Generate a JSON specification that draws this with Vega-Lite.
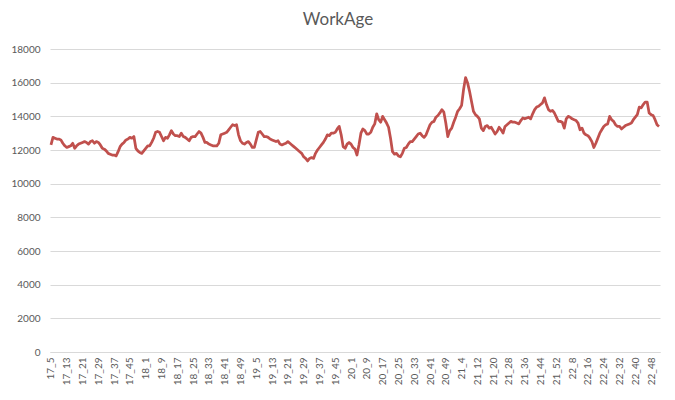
{
"$schema": "https://vega.github.io/schema/vega-lite/v6.json",
"width": 610, "height": 303,
"padding": {"left": 50, "top": 49, "right": 15, "bottom": 48},
"autosize": {"type": "none"},
"background": "white",
"title": {"text": "WorkAge", "fontSize": 17, "font": "Lato", "fontWeight": "normal", "color": "#595959", "frame": "group", "anchor": "middle", "offset": 15, "dx": -17},
"config": {"view": {"stroke": null}, "axis": {"labelFont": "Lato", "labelColor": "#595959", "labelFontSize": 10}},
"data": {"values": [
{"w":"17_5","v":12300},{"w":"17_6","v":12750},{"w":"17_7","v":12700},{"w":"17_8","v":12650},{"w":"17_9","v":12650},{"w":"17_10","v":12600},{"w":"17_11","v":12400},{"w":"17_12","v":12250},{"w":"17_13","v":12150},{"w":"17_14","v":12200},{"w":"17_15","v":12250},{"w":"17_16","v":12400},{"w":"17_17","v":12100},{"w":"17_18","v":12250},{"w":"17_19","v":12350},{"w":"17_20","v":12400},{"w":"17_21","v":12450},{"w":"17_22","v":12500},{"w":"17_23","v":12450},{"w":"17_24","v":12350},{"w":"17_25","v":12500},{"w":"17_26","v":12550},{"w":"17_27","v":12400},{"w":"17_28","v":12500},{"w":"17_29","v":12450},{"w":"17_30","v":12300},{"w":"17_31","v":12100},{"w":"17_32","v":12050},{"w":"17_33","v":11950},{"w":"17_34","v":11800},{"w":"17_35","v":11750},{"w":"17_36","v":11700},{"w":"17_37","v":11700},{"w":"17_38","v":11650},{"w":"17_39","v":11900},{"w":"17_40","v":12200},{"w":"17_41","v":12350},{"w":"17_42","v":12450},{"w":"17_43","v":12600},{"w":"17_44","v":12650},{"w":"17_45","v":12750},{"w":"17_46","v":12700},{"w":"17_47","v":12800},{"w":"17_48","v":12100},{"w":"17_49","v":11950},{"w":"17_50","v":11850},{"w":"17_51","v":11800},{"w":"17_52","v":11950},
{"w":"18_1","v":12100},{"w":"18_2","v":12250},{"w":"18_3","v":12250},{"w":"18_4","v":12450},{"w":"18_5","v":12700},{"w":"18_6","v":13050},{"w":"18_7","v":13100},{"w":"18_8","v":13050},{"w":"18_9","v":12800},{"w":"18_10","v":12550},{"w":"18_11","v":12750},{"w":"18_12","v":12700},{"w":"18_13","v":12900},{"w":"18_14","v":13150},{"w":"18_15","v":12950},{"w":"18_16","v":12850},{"w":"18_17","v":12850},{"w":"18_18","v":12800},{"w":"18_19","v":13000},{"w":"18_20","v":12800},{"w":"18_21","v":12750},{"w":"18_22","v":12650},{"w":"18_23","v":12550},{"w":"18_24","v":12750},{"w":"18_25","v":12800},{"w":"18_26","v":12800},{"w":"18_27","v":12950},{"w":"18_28","v":13100},{"w":"18_29","v":13000},{"w":"18_30","v":12750},{"w":"18_31","v":12450},{"w":"18_32","v":12450},{"w":"18_33","v":12350},{"w":"18_34","v":12300},{"w":"18_35","v":12250},{"w":"18_36","v":12250},{"w":"18_37","v":12250},{"w":"18_38","v":12400},{"w":"18_39","v":12900},{"w":"18_40","v":12950},{"w":"18_41","v":13000},{"w":"18_42","v":13050},{"w":"18_43","v":13200},{"w":"18_44","v":13350},{"w":"18_45","v":13500},{"w":"18_46","v":13450},{"w":"18_47","v":13500},{"w":"18_48","v":12900},{"w":"18_49","v":12550},{"w":"18_50","v":12400},{"w":"18_51","v":12350},{"w":"18_52","v":12450},
{"w":"19_1","v":12500},{"w":"19_2","v":12350},{"w":"19_3","v":12150},{"w":"19_4","v":12150},{"w":"19_5","v":12600},{"w":"19_6","v":13050},{"w":"19_7","v":13100},{"w":"19_8","v":12950},{"w":"19_9","v":12800},{"w":"19_10","v":12800},{"w":"19_11","v":12750},{"w":"19_12","v":12650},{"w":"19_13","v":12600},{"w":"19_14","v":12550},{"w":"19_15","v":12500},{"w":"19_16","v":12550},{"w":"19_17","v":12350},{"w":"19_18","v":12300},{"w":"19_19","v":12350},{"w":"19_20","v":12400},{"w":"19_21","v":12500},{"w":"19_22","v":12400},{"w":"19_23","v":12300},{"w":"19_24","v":12200},{"w":"19_25","v":12100},{"w":"19_26","v":12000},{"w":"19_27","v":11900},{"w":"19_28","v":11800},{"w":"19_29","v":11600},{"w":"19_30","v":11500},{"w":"19_31","v":11350},{"w":"19_32","v":11500},{"w":"19_33","v":11550},{"w":"19_34","v":11500},{"w":"19_35","v":11800},{"w":"19_36","v":12000},{"w":"19_37","v":12150},{"w":"19_38","v":12300},{"w":"19_39","v":12450},{"w":"19_40","v":12650},{"w":"19_41","v":12900},{"w":"19_42","v":12850},{"w":"19_43","v":13000},{"w":"19_44","v":13000},{"w":"19_45","v":13050},{"w":"19_46","v":13250},{"w":"19_47","v":13400},{"w":"19_48","v":12900},{"w":"19_49","v":12200},{"w":"19_50","v":12100},{"w":"19_51","v":12350},{"w":"19_52","v":12450},
{"w":"20_1","v":12350},{"w":"20_2","v":12150},{"w":"20_3","v":12050},{"w":"20_4","v":11700},{"w":"20_5","v":12300},{"w":"20_6","v":13000},{"w":"20_7","v":13250},{"w":"20_8","v":13150},{"w":"20_9","v":12950},{"w":"20_10","v":12950},{"w":"20_11","v":13050},{"w":"20_12","v":13350},{"w":"20_13","v":13550},{"w":"20_14","v":14150},{"w":"20_15","v":13800},{"w":"20_16","v":13650},{"w":"20_17","v":14000},{"w":"20_18","v":13800},{"w":"20_19","v":13600},{"w":"20_20","v":13350},{"w":"20_21","v":12700},{"w":"20_22","v":11900},{"w":"20_23","v":11750},{"w":"20_24","v":11800},{"w":"20_25","v":11650},{"w":"20_26","v":11600},{"w":"20_27","v":11800},{"w":"20_28","v":12100},{"w":"20_29","v":12150},{"w":"20_30","v":12350},{"w":"20_31","v":12500},{"w":"20_32","v":12500},{"w":"20_33","v":12650},{"w":"20_34","v":12800},{"w":"20_35","v":12950},{"w":"20_36","v":13000},{"w":"20_37","v":12850},{"w":"20_38","v":12750},{"w":"20_39","v":12900},{"w":"20_40","v":13200},{"w":"20_41","v":13500},{"w":"20_42","v":13650},{"w":"20_43","v":13700},{"w":"20_44","v":13950},{"w":"20_45","v":14050},{"w":"20_46","v":14200},{"w":"20_47","v":14400},{"w":"20_48","v":14250},{"w":"20_49","v":13600},{"w":"20_50","v":12800},{"w":"20_51","v":13150},{"w":"20_52","v":13300},{"w":"20_53","v":13650},
{"w":"21_1","v":13950},{"w":"21_2","v":14300},{"w":"21_3","v":14450},{"w":"21_4","v":14650},{"w":"21_5","v":15600},{"w":"21_6","v":16300},{"w":"21_7","v":16000},{"w":"21_8","v":15500},{"w":"21_9","v":14900},{"w":"21_10","v":14300},{"w":"21_11","v":14100},{"w":"21_12","v":14000},{"w":"21_13","v":13850},{"w":"21_14","v":13300},{"w":"21_15","v":13150},{"w":"21_16","v":13400},{"w":"21_17","v":13450},{"w":"21_18","v":13300},{"w":"21_19","v":13350},{"w":"21_20","v":13150},{"w":"21_21","v":12950},{"w":"21_22","v":13100},{"w":"21_23","v":13350},{"w":"21_24","v":13200},{"w":"21_25","v":13000},{"w":"21_26","v":13400},{"w":"21_27","v":13500},{"w":"21_28","v":13600},{"w":"21_29","v":13700},{"w":"21_30","v":13650},{"w":"21_31","v":13650},{"w":"21_32","v":13600},{"w":"21_33","v":13550},{"w":"21_34","v":13750},{"w":"21_35","v":13900},{"w":"21_36","v":13850},{"w":"21_37","v":13900},{"w":"21_38","v":13950},{"w":"21_39","v":13850},{"w":"21_40","v":14150},{"w":"21_41","v":14400},{"w":"21_42","v":14550},{"w":"21_43","v":14600},{"w":"21_44","v":14700},{"w":"21_45","v":14800},{"w":"21_46","v":15100},{"w":"21_47","v":14700},{"w":"21_48","v":14400},{"w":"21_49","v":14300},{"w":"21_50","v":14350},{"w":"21_51","v":14200},{"w":"21_52","v":13950},
{"w":"22_1","v":13700},{"w":"22_2","v":13700},{"w":"22_3","v":13650},{"w":"22_4","v":13300},{"w":"22_5","v":13850},{"w":"22_6","v":14000},{"w":"22_7","v":13950},{"w":"22_8","v":13850},{"w":"22_9","v":13800},{"w":"22_10","v":13750},{"w":"22_11","v":13600},{"w":"22_12","v":13200},{"w":"22_13","v":13300},{"w":"22_14","v":13000},{"w":"22_15","v":12900},{"w":"22_16","v":12850},{"w":"22_17","v":12700},{"w":"22_18","v":12500},{"w":"22_19","v":12150},{"w":"22_20","v":12400},{"w":"22_21","v":12700},{"w":"22_22","v":13000},{"w":"22_23","v":13200},{"w":"22_24","v":13400},{"w":"22_25","v":13500},{"w":"22_26","v":13550},{"w":"22_27","v":14000},{"w":"22_28","v":13800},{"w":"22_29","v":13700},{"w":"22_30","v":13500},{"w":"22_31","v":13400},{"w":"22_32","v":13400},{"w":"22_33","v":13250},{"w":"22_34","v":13350},{"w":"22_35","v":13450},{"w":"22_36","v":13500},{"w":"22_37","v":13550},{"w":"22_38","v":13600},{"w":"22_39","v":13800},{"w":"22_40","v":13950},{"w":"22_41","v":14100},{"w":"22_42","v":14550},{"w":"22_43","v":14500},{"w":"22_44","v":14700},{"w":"22_45","v":14850},{"w":"22_46","v":14850},{"w":"22_47","v":14200},{"w":"22_48","v":14100},{"w":"22_49","v":14050},{"w":"22_50","v":13800},{"w":"22_51","v":13500},{"w":"22_52","v":13400}
]},
"mark": {"type": "line", "color": "#c0504d", "strokeWidth": 2.75, "strokeJoin": "round"},
"encoding": {
"x": {"field": "w", "type": "ordinal", "sort": null, "scale": {"type": "point", "padding": 0.5},
 "axis": {"title": null, "values": ["17_5","17_13","17_21","17_29","17_37","17_45","18_1","18_9","18_17","18_25","18_33","18_41","18_49","19_5","19_13","19_21","19_29","19_37","19_45","20_1","20_9","20_17","20_25","20_33","20_41","20_49","21_4","21_12","21_20","21_28","21_36","21_44","21_52","22_8","22_16","22_24","22_32","22_40","22_48"],
 "labelAngle": -90, "ticks": false, "domain": true, "domainColor": "#d9d9d9", "grid": false, "labelPadding": 5}},
"y": {"field": "v", "type": "quantitative", "scale": {"domain": [0, 18000]},
 "axis": {"title": null, "values": [0,2000,4000,6000,8000,10000,12000,14000,16000,18000], "format": "d", "grid": true, "gridColor": "#d9d9d9", "domain": false, "ticks": false, "labelPadding": 10}}
}
}
